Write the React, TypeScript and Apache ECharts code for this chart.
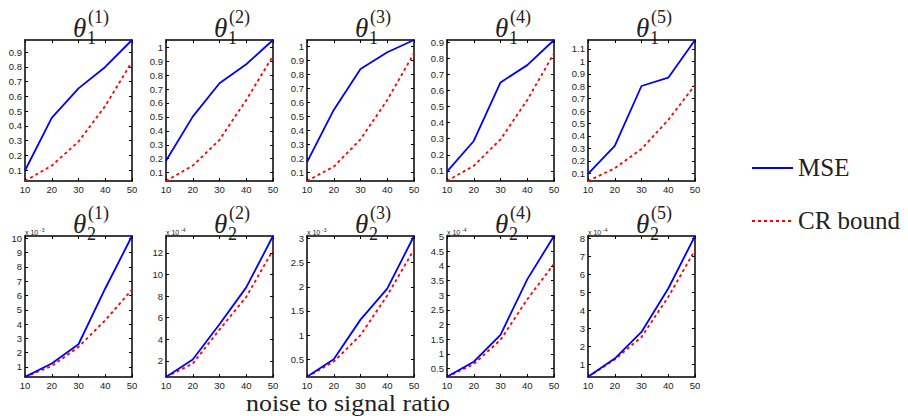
import React, { useEffect, useRef } from "react";
import * as echarts from "echarts";

// Noise-to-signal ratio sampled for every panel
const xTicks = [10, 20, 30, 40, 50];

// theta_1 estimates (one array per parameter set 1..5)
const theta1MSE = [
  [0.098, 0.455, 0.655, 0.8, 0.983],
  [0.185, 0.502, 0.742, 0.878, 1.052],
  [0.175, 0.546, 0.837, 0.956, 1.043],
  [0.095, 0.286, 0.652, 0.76, 0.917],
  [0.095, 0.32, 0.802, 0.869, 1.172],
];
const theta1CR = [
  [0.027, 0.131, 0.294, 0.536, 0.836],
  [0.04, 0.15, 0.335, 0.622, 0.938],
  [0.041, 0.143, 0.337, 0.617, 0.949],
  [0.036, 0.131, 0.296, 0.542, 0.834],
  [0.038, 0.14, 0.296, 0.529, 0.81],
];
const theta1Ticks = [
  [0.1, 0.2, 0.3, 0.4, 0.5, 0.6, 0.7, 0.8, 0.9],
  [0.1, 0.2, 0.3, 0.4, 0.5, 0.6, 0.7, 0.8, 0.9, 1],
  [0.1, 0.2, 0.3, 0.4, 0.5, 0.6, 0.7, 0.8, 0.9, 1],
  [0.1, 0.2, 0.3, 0.4, 0.5, 0.6, 0.7, 0.8, 0.9],
  [0.1, 0.2, 0.3, 0.4, 0.5, 0.6, 0.7, 0.8, 0.9, 1, 1.1],
];

// theta_2 estimates, in units of 10^exponent
const theta2Exponent = [-3, -4, -3, -4, -4];
const theta2MSE = [
  [0.31, 1.24, 2.59, 6.49, 10.16],
  [0.53, 2.13, 5.4, 8.8, 13.55],
  [0.14, 0.5, 1.32, 1.96, 3.05],
  [0.22, 0.73, 1.65, 3.54, 5.02],
  [0.33, 1.33, 2.81, 5.22, 8.13],
];
const theta2CR = [
  [0.3, 1.07, 2.4, 4.27, 6.42],
  [0.52, 1.76, 4.9, 7.93, 12.25],
  [0.133, 0.45, 1.0, 1.82, 2.77],
  [0.21, 0.65, 1.48, 2.86, 4.07],
  [0.31, 1.28, 2.53, 4.75, 7.35],
];
const theta2Ticks = [
  [1, 2, 3, 4, 5, 6, 7, 8, 9, 10],
  [2, 4, 6, 8, 10, 12],
  [0.5, 1, 1.5, 2, 2.5, 3],
  [0.5, 1, 1.5, 2, 2.5, 3, 3.5, 4, 4.5, 5],
  [1, 2, 3, 4, 5, 6, 7, 8],
];

const legendNames = ["MSE", "CR bound"];
const xLabelText = "noise to signal ratio";

// Layout of the 2x5 panel grid
const panelLefts = [25, 166, 307, 447, 588];
const rowTops = [40, 236];
const panelW = 107;
const panelH = 141;

const BLUE = "#0000ff";
const RED = "#ff0000";
const INK = "#222222";
const SERIF = "'Liberation Serif', 'Times New Roman', serif";
const SANS = "'Liberation Sans', Arial, sans-serif";
const RED_DASH = [3, 3];

function buildOption() {
  const grid: any[] = [];
  const xAxis: any[] = [];
  const yAxis: any[] = [];
  const series: any[] = [];
  const graphic: any[] = [];

  const frame = { show: true, onZero: false, lineStyle: { color: "#000", width: 1.5 } };
  const tickStyle = { color: "#000", width: 1 };

  const rows = [
    { mse: theta1MSE, cr: theta1CR, ticks: theta1Ticks, sub: "1" },
    { mse: theta2MSE, cr: theta2CR, ticks: theta2Ticks, sub: "2" },
  ];

  rows.forEach((row, r) => {
    for (let c = 0; c < 5; c++) {
      const gi = r * 5 + c;
      const left = panelLefts[c];
      const top = rowTops[r];
      const mse = row.mse[c];
      const cr = row.cr[c];
      const yMin = Math.min(...mse, ...cr);
      const yMax = Math.max(...mse, ...cr);
      const yTicks = row.ticks[c];

      grid.push({ left, top, width: panelW, height: panelH, containLabel: false });

      ["bottom", "top"].forEach((pos, k) => {
        xAxis.push({
          type: "value",
          gridIndex: gi,
          position: pos,
          min: 10,
          max: 50,
          axisLine: frame,
          axisTick: { show: true, inside: true, length: 3, customValues: xTicks, lineStyle: tickStyle },
          axisLabel: {
            show: k === 0,
            customValues: xTicks,
            margin: 3,
            showMinLabel: true,
            showMaxLabel: true,
            fontFamily: SANS,
            fontSize: 9.5,
            color: INK,
          },
          splitLine: { show: false },
        });
      });

      ["left", "right"].forEach((pos, k) => {
        yAxis.push({
          type: "value",
          gridIndex: gi,
          position: pos,
          min: yMin,
          max: yMax,
          axisLine: frame,
          axisTick: { show: true, inside: true, length: 3, customValues: yTicks, lineStyle: tickStyle },
          axisLabel: {
            show: k === 0,
            customValues: yTicks,
            margin: 3,
            showMinLabel: true,
            showMaxLabel: true,
            fontFamily: SANS,
            fontSize: 9.5,
            color: INK,
          },
          splitLine: { show: false },
        });
      });

      series.push({
        name: legendNames[0],
        type: "line",
        xAxisIndex: gi * 2,
        yAxisIndex: gi * 2,
        data: xTicks.map((x, i) => [x, mse[i]]),
        symbol: "none",
        lineStyle: { color: BLUE, width: 1.8 },
        itemStyle: { color: BLUE },
        z: 3,
      });
      series.push({
        name: legendNames[1],
        type: "line",
        xAxisIndex: gi * 2,
        yAxisIndex: gi * 2,
        data: xTicks.map((x, i) => [x, cr[i]]),
        symbol: "none",
        lineStyle: { color: RED, width: 1.8, type: RED_DASH },
        itemStyle: { color: RED },
        z: 2,
      });

      // Panel title: theta with parameter subscript and set superscript
      graphic.push(
        {
          type: "text",
          x: left + 48,
          y: top - 12,
          style: { text: "θ", font: `italic 27px ${SERIF}`, fill: INK, textVerticalAlign: "middle" },
        },
        {
          type: "text",
          x: left + 62,
          y: top - 2,
          style: { text: row.sub, font: `18px ${SERIF}`, fill: INK, textVerticalAlign: "middle" },
        },
        {
          type: "text",
          x: left + 63,
          y: top - 23,
          style: { text: `(${c + 1})`, font: `18px ${SERIF}`, fill: INK, textVerticalAlign: "middle" },
        }
      );

      // Axis multiplier for the theta_2 panels
      if (r === 1) {
        graphic.push(
          {
            type: "text",
            x: left,
            y: top - 4,
            style: { text: "x 10", font: `7px ${SANS}`, fill: INK, textVerticalAlign: "middle" },
          },
          {
            type: "text",
            x: left + 15,
            y: top - 6,
            style: {
              text: String(theta2Exponent[c]),
              font: `5px ${SANS}`,
              fill: INK,
              textVerticalAlign: "middle",
            },
          }
        );
      }
    }
  });

  // Shared x-axis caption
  graphic.push({
    type: "text",
    x: 348,
    y: 403,
    scaleX: 1.13,
    style: {
      text: xLabelText,
      font: `23px ${SERIF}`,
      fill: INK,
      textAlign: "center",
      textVerticalAlign: "middle",
    },
  });

  // Legend keys
  const legendRows = [
    { y: 168, color: BLUE, dash: null as number[] | null },
    { y: 221, color: RED, dash: RED_DASH },
  ];
  legendRows.forEach((item, i) => {
    graphic.push(
      {
        type: "line",
        shape: { x1: 752, y1: item.y, x2: 793, y2: item.y },
        style: { stroke: item.color, lineWidth: 2, lineDash: item.dash || undefined },
      },
      {
        type: "text",
        x: 798,
        y: item.y - 1,
        style: {
          text: legendNames[i],
          font: `25px ${SERIF}`,
          fill: INK,
          textVerticalAlign: "middle",
        },
      }
    );
  });

  return {
    animation: false,
    backgroundColor: "#ffffff",
    grid,
    xAxis,
    yAxis,
    series,
    graphic,
  };
}

export default function App() {
  const ref = useRef<HTMLDivElement>(null);

  useEffect(() => {
    if (!ref.current) return;
    const chart = echarts.init(ref.current, undefined, { renderer: "svg" });
    chart.setOption(buildOption());
    return () => chart.dispose();
  }, []);

  return (
    <div
      ref={ref}
      style={{ position: "absolute", left: 0, top: 0, width: 908, height: 416, background: "#fff" }}
    />
  );
}
